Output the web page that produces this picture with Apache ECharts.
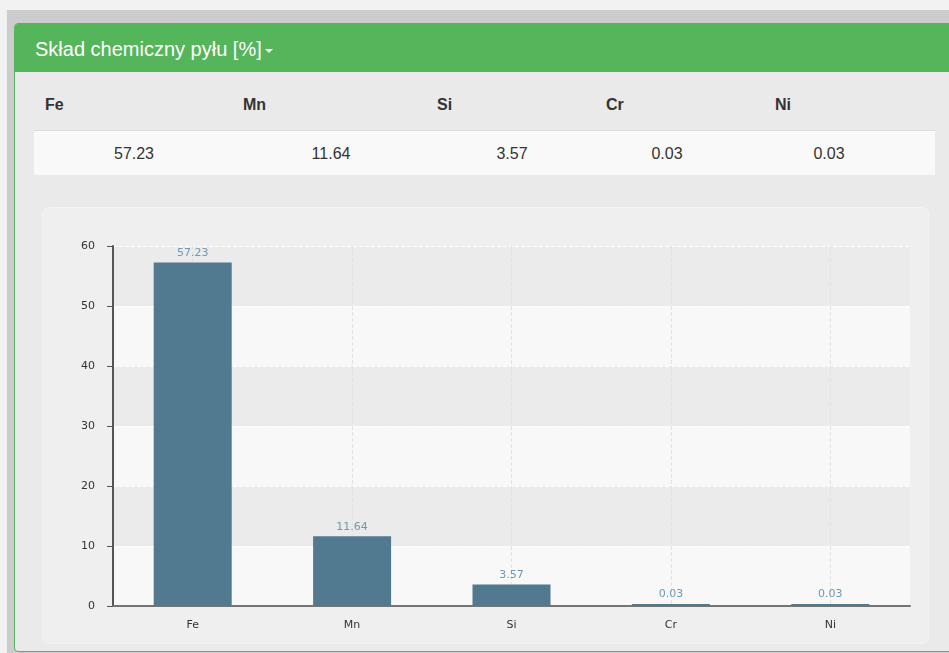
<!DOCTYPE html>
<html>
<head>
<meta charset="utf-8">
<script src="https://cdn.jsdelivr.net/npm/echarts@6/dist/echarts.min.js"></script>
<style>
  body { margin: 0; background: #f2f2f2; font-family: "Liberation Sans", Arial, sans-serif; }
  .outer { position: absolute; left: 7px; top: 10px; width: 960px; height: 660px; background: #cccccc; }
  .panel { position: absolute; left: 14px; top: 23px; width: 950px; height: 627px; background: #eaeaea;
           border: 1px solid #55b55a; border-radius: 4px; }
  .head { position: absolute; left: 0; top: 0; right: 0; height: 48px; background: #55b55a; color: #fff;
          font-size: 20px; line-height: 50px; padding-left: 20px; border-radius: 3px 3px 0 0; }
  .caret { display: inline-block; width: 0; height: 0; border-left: 4px solid transparent;
           border-right: 4px solid transparent; border-top: 4px solid #fff; vertical-align: middle; margin-left: 3px; }
  .th { position: absolute; top: 96px; font-weight: bold; font-size: 16px; color: #333; }
  .row { position: absolute; left: 34px; top: 130px; width: 901px; height: 44px; background: #f9f9f9; border-top: 1px solid #dddddd; }
  .td { position: absolute; top: 145px; font-size: 16px; color: #333; transform: translateX(-50%); }
  .box { position: absolute; left: 42px; top: 207px; width: 885px; height: 435px; background: #efefef;
         border: 1px solid #f3f3f3; border-radius: 7px; }
  #chart { position: absolute; left: 0; top: 0; width: 885px; height: 435px; }
</style>
</head>
<body>
<div class="outer"></div>
<div class="panel">
  <div class="head">Skład chemiczny pyłu [%]<span class="caret"></span></div>
</div>
<div class="row"></div>
<div id="table"></div>
<div class="box"><div id="chart"></div></div>
<script>
var categories = ['Fe', 'Mn', 'Si', 'Cr', 'Ni'];
var values = [57.23, 11.64, 3.57, 0.03, 0.03];
var headerX = [45, 243, 437, 606, 775];
var cellX = [134, 331, 512, 667, 829];

var table = document.getElementById('table');
var html = '';
for (var i = 0; i < categories.length; i++) {
  html += '<div class="th" style="left:' + headerX[i] + 'px">' + categories[i] + '</div>';
  html += '<div class="td" style="left:' + cellX[i] + 'px">' + values[i].toFixed(2) + '</div>';
}
table.innerHTML = html;

var chartFont = 'DejaVu Sans';
var option = {
  animation: false,
  grid: { left: 70, right: 18, top: 38, bottom: 37 },
  xAxis: {
    type: 'category',
    data: categories,
    axisLine: { lineStyle: { color: '#757575', width: 2 } },
    axisTick: { alignWithLabel: true, length: 5, lineStyle: { color: '#555' } },
    axisLabel: { color: '#333', fontSize: 11, fontFamily: chartFont, margin: 14 },
    splitLine: { show: true, alignWithLabel: true, lineStyle: { color: '#e2e2e2', type: 'dashed' } }
  },
  yAxis: {
    type: 'value',
    min: 0,
    max: 60,
    interval: 10,
    axisLine: { show: true, lineStyle: { color: '#555', width: 2 } },
    axisTick: { show: true, length: 6, lineStyle: { color: '#555' } },
    axisLabel: { color: '#333', fontSize: 11, fontFamily: chartFont, margin: 18 },
    splitLine: { show: true, lineStyle: { color: '#ffffff', type: 'dashed' } },
    splitArea: { show: true, areaStyle: { color: ['#f8f8f8', '#ebebeb'] } }
  },
  series: [{
    type: 'bar',
    data: values,
    barWidth: 78,
    barMinHeight: 2,
    itemStyle: { color: '#517990' },
    label: {
      show: true,
      position: 'top',
      distance: 4,
      color: '#7098b4',
      fontSize: 11,
      fontFamily: chartFont,
      formatter: function (p) { return p.value.toFixed(2); }
    }
  }]
};
var myChart = echarts.init(document.getElementById('chart'));
myChart.setOption(option, true);
</script>
</body>
</html>
